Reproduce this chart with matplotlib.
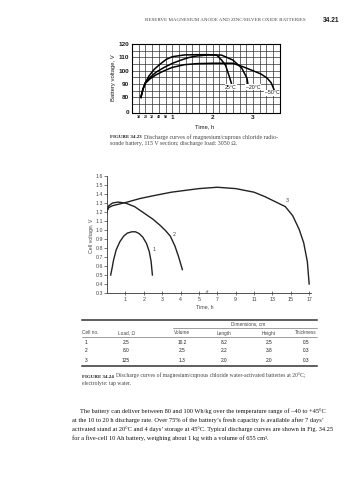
import numpy as np
import matplotlib
matplotlib.use('Agg')
import matplotlib.pyplot as plt

plt.rcParams['font.family'] = ['Liberation Sans', 'DejaVu Sans']

# FIGURE 34.23 - battery voltage vs time (h)
t_25 = [0.22, 0.27, 0.33, 0.42, 0.55, 0.7, 0.85, 1.0, 1.3, 1.6, 1.9, 2.1, 2.22, 2.32, 2.42, 2.48]
v_25 = [80, 86, 91, 96, 101, 105, 108.5, 110.5, 111.8, 112, 112, 111.7, 108, 104, 95, 89]
t_m20 = [0.22, 0.27, 0.33, 0.45, 0.6, 0.8, 1.0, 1.2, 1.4, 1.6, 1.9, 2.22, 2.5, 2.72, 2.85, 2.88]
v_m20 = [80, 86, 91, 95, 99, 102.5, 105.5, 107.8, 109.8, 111, 111.8, 111.7, 108, 102, 94.5, 89]
t_m50 = [0.22, 0.27, 0.33, 0.45, 0.6, 0.8, 1.0, 1.3, 1.6, 2.0, 2.5, 2.75, 3.0, 3.2, 3.35, 3.45, 3.52]
v_m50 = [80, 86, 90.5, 94, 97, 100, 102.5, 104.5, 105.3, 105.6, 105.6, 103, 100, 97.5, 94.5, 91, 86]
temp_labels = ['25°C', '–20°C', '–50°C']

# FIGURE 34.24 - cell voltage vs time (h)
t_c1 = [0.2, 0.28, 0.35, 0.5, 0.7, 0.9, 1.1, 1.35, 1.55, 1.75, 1.95, 2.15, 2.3, 2.4, 2.47]
v_c1 = [0.50, 0.58, 0.66, 0.78, 0.87, 0.93, 0.965, 0.98, 0.98, 0.96, 0.92, 0.85, 0.76, 0.65, 0.50]
t_c2 = [0, 0.1, 0.3, 0.6, 1.0, 1.5, 2.0, 2.5, 2.9, 3.2, 3.45, 3.7, 3.9, 4.1]
v_c2 = [1.21, 1.27, 1.30, 1.31, 1.30, 1.26, 1.19, 1.12, 1.05, 0.99, 0.93, 0.82, 0.70, 0.56]
t_c3 = [0, 0.1, 0.3, 0.7, 1.1, 1.8, 2.5, 3.5, 5, 7, 9, 11, 12.2, 13.2, 14.4, 15.2, 15.9, 16.4, 16.8, 17.0]
v_c3 = [1.21, 1.25, 1.27, 1.29, 1.31, 1.35, 1.38, 1.42, 1.46, 1.475, 1.46, 1.42, 1.37, 1.32, 1.26,
        1.16, 1.01, 0.86, 0.65, 0.40]
time_ticks = [1, 2, 3, 4, 5, 7, 9, 11, 13, 15, 17]

# table under fig 34.24
cell_no = ['1', '2', '3']
load = ['2.5', '8.0', '125']
volume = ['10.2', '2.5', '1.3']
length = ['8.2', '2.2', '2.0']
height = ['2.5', '3.8', '2.0']
thickness = ['0.5', '0.3', '0.3']

W, H = 357, 480
fig = plt.figure(figsize=(W / 100, H / 100), dpi=100)


def rect(x, y, w, h):
    return [x / W, 1 - (y + h) / H, w / W, h / H]


ink = '#1a1a1a'
grey = '#444444'
serif = 'Liberation Serif'

# page overlay for all loose text, pixel coordinates
page = fig.add_axes([0, 0, 1, 1])
page.set_xlim(0, W)
page.set_ylim(H, 0)
page.axis('off')

page.text(306, 20, 'RESERVE MAGNESIUM ANODE AND ZINC/SILVER OXIDE BATTERIES', ha='right', va='center',
          fontsize=3.6, family=serif, color=grey)
page.text(339, 20, '34.21', ha='right', va='center', fontsize=4.8, weight='bold', color=ink)

# ---- top chart ----
ax1 = fig.add_axes(rect(132, 44, 148, 68.5))
ax1.set_xlim(0, 3.67)
ax1.set_ylim(68.7, 120)
for x in np.arange(1 / 6, 3.6, 1 / 6):
    ax1.axvline(x, color='#333333', lw=0.5, zorder=1)
for y in range(75, 120, 5):
    ax1.axhline(y, color='#333333', lw=0.5, zorder=1)
for t, v in [(t_25, v_25), (t_m20, v_m20), (t_m50, v_m50)]:
    ax1.plot(t, v, color='black', lw=1.1, zorder=3)
for s, (x, y) in zip(temp_labels, [(2.45, 87.5), (3.0, 87.5), (3.47, 83.5)]):
    ax1.text(x, y, s, ha='center', va='center', fontsize=3.8, color=ink, zorder=4,
             bbox=dict(fc='white', ec='none', pad=0.3))
for sp in ax1.spines.values():
    sp.set_linewidth(0.8)
ax1.set_yticks([68.7, 80, 90, 100, 110, 120], ['0', '80', '90', '100', '110', '120'])
ax1.set_xticks([10 / 60, 20 / 60, 30 / 60, 40 / 60, 50 / 60, 1, 2, 3],
               ['10', '20', '30', '40', '50', '1', '2', '3'])
ax1.tick_params(length=0, pad=2, labelsize=4.6, colors=ink)
for lab in ax1.get_xticklabels()[:5]:
    lab.set_fontsize(2.6)
for lab in ax1.get_xticklabels() + ax1.get_yticklabels():
    lab.set_fontweight('bold')
page.text(114, 78, 'Battery voltage, V', rotation=90, ha='center', va='center', fontsize=4.2, color=ink)
page.text(205, 127, 'Time, h', ha='center', va='center', fontsize=4.2, color=ink)

page.text(110, 138.5, 'FIGURE 34.23', ha='left', va='baseline', fontsize=3.6, family=serif,
          weight='bold', color=ink)
page.text(144, 138.5, 'Discharge curves of magnesium/cuprous chloride radio-', ha='left', va='baseline',
          fontsize=4.2, family=serif, color=grey)
page.text(110, 145.5, 'sonde battery, 115 V section; discharge load: 3050 Ω.', ha='left', va='baseline',
          fontsize=4.2, family=serif, color=grey)

# ---- bottom chart ----
ax2 = fig.add_axes(rect(107, 176, 204, 117))
ax2.set_xscale('function', functions=(lambda t: np.where(t <= 5, t, 5 + (t - 5) / 2),
                                      lambda p: np.where(p <= 5, p, 5 + 2 * (p - 5))))
ax2.set_xlim(0, 17.2)
ax2.set_ylim(0.3, 1.6)
ax2.plot(t_c1, v_c1, color='#222222', lw=1.0)
ax2.plot(t_c2, v_c2, color='#222222', lw=1.0)
ax2.plot(t_c3, v_c3, color='#222222', lw=1.0)
ax2.text(2.55, 0.78, '1', fontsize=3.8, color=grey, ha='center', va='center')
ax2.text(3.65, 0.95, '2', fontsize=3.8, color=grey, ha='center', va='center')
ax2.text(14.6, 1.33, '3', fontsize=3.8, color=grey, ha='center', va='center')
ax2.text(6, 0.315, '≈', rotation=60, fontsize=4, color=grey, ha='center', va='center')
ax2.spines[['top', 'right']].set_visible(False)
for sp in ax2.spines.values():
    sp.set_linewidth(0.6)
    sp.set_color('#333333')
ax2.set_xticks(time_ticks, [str(v) for v in time_ticks])
yt = np.round(np.arange(0.3, 1.61, 0.1), 1)
ax2.set_yticks(yt, [f'{v:.1f}' for v in yt])
ax2.tick_params(axis='x', direction='inout', length=3, width=0.5, pad=1.5, labelsize=3.8, colors=grey)
ax2.tick_params(axis='y', direction='out', length=2, width=0.5, pad=1, labelsize=3.8, colors=grey)
page.text(92, 236, 'Cell voltage, V', rotation=90, ha='center', va='center', fontsize=3.8, color=grey)
page.text(205, 307, 'Time, h', ha='center', va='center', fontsize=3.8, color=grey)

# ---- table ----
x0, x1 = 82, 317
page.plot([x0, x1], [320, 320], color='#333333', lw=1.1)
page.text(248, 325.5, 'Dimensions, cm', ha='center', va='baseline', fontsize=3.4, color=grey)
page.plot([173, x1], [328, 328], color='#555555', lw=0.4)
col_x = [88, 126, 182, 224, 269, 306]
headers = ['Cell no.', 'Load, Ω', 'Volume', 'Length', 'Height', 'Thickness']
for j, (x, h) in enumerate(zip(col_x, headers)):
    page.text(x0 if j == 0 else x, 334.5, h, ha='left' if j == 0 else 'center',
              va='baseline', fontsize=3.4, color=grey)
page.plot([x0, x1], [337, 337], color='#555555', lw=0.4)
for i, row in enumerate(zip(cell_no, load, volume, length, height, thickness)):
    for j, (x, val) in enumerate(zip(col_x, row)):
        page.text(x - 2 if j == 0 else x, 343.5 + 9 * i, val, ha='center',
                  va='baseline', fontsize=3.4, color=ink)
page.plot([x0, x1], [366, 366], color='#333333', lw=1.1)

page.text(82, 377.5, 'FIGURE 34.24', ha='left', va='baseline', fontsize=3.6, family=serif,
          weight='bold', color=ink)
page.text(116, 377.5, 'Discharge curves of magnesium/cuprous chloride water-activated batteries at 20°C;',
          ha='left', va='baseline', fontsize=4.1, family=serif, color=grey)
page.text(82, 385.5, 'electrolyte: tap water.', ha='left', va='baseline', fontsize=4.1, family=serif,
          color=grey)

para = ['The battery can deliver between 80 and 100 Wh/kg over the temperature range of –40 to +45°C',
        'at the 10 to 20 h discharge rate. Over 75% of the battery\u2019s fresh capacity is available after 7 days\u2019',
        'activated stand at 20°C and 4 days\u2019 storage at 45°C. Typical discharge curves are shown in Fig. 34.25',
        'for a five-cell 10 Ah battery, weighing about 1 kg with a volume of 655 cm³.']
for i, line in enumerate(para):
    page.text(80 if i == 0 else 72, 413.5 + 8.7 * i, line, ha='left', va='baseline', fontsize=4.6,
              family=serif, color='#111111')

fig.savefig('out.png', dpi=100)
